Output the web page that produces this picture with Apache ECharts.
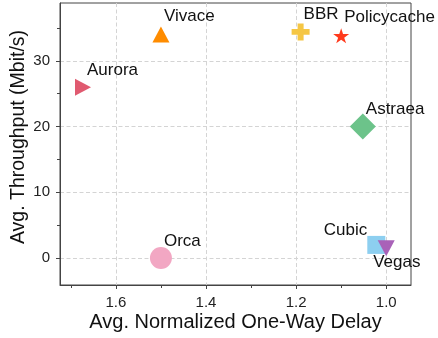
<!DOCTYPE html>
<html><head><meta charset="utf-8">
<script src="https://cdn.jsdelivr.net/npm/echarts@6/dist/echarts.min.js"></script>
<style>html,body{margin:0;padding:0;background:#fff}#c{width:438px;height:338px}</style>
</head><body><div id="c"></div>
<script>
// ---- data ----
const names = ['Vivace', 'BBR', 'Policycache', 'Aurora', 'Astraea', 'Orca', 'Cubic', 'Vegas'];
const delay = [1.50, 1.19, 1.10, 1.673, 1.052, 1.50, 1.022, 1.00];
const throughput = [34.0, 34.4, 33.8, 26.0, 20.0, 0.0, 2.0, 1.5];
const xMajorTicks = [1.0, 1.2, 1.4, 1.6];
const xMinorTicks = [1.1, 1.3, 1.5, 1.7];
const yMajorTicks = [0, 10, 20, 30];
const yMinorTicks = [5, 15, 25, 35];
const xLabel = 'Avg. Normalized One-Way Delay';
const yLabel = 'Avg. Throughput (Mbit/s)';

// ---- styles ----
function starPath() {
  const p = [];
  for (let k = 0; k < 10; k++) {
    const r = k % 2 ? 0.382 : 1;
    const a = (-90 + k * 36) * Math.PI / 180;
    p.push((r * Math.cos(a)).toFixed(4) + ' ' + (r * Math.sin(a)).toFixed(4));
  }
  return 'path://M' + p.join(' L') + ' Z';
}
const plusPath = 'path://M1 0 H2 V1 H3 V2 H2 V3 H1 V2 H0 V1 H1 Z';
const triRight = 'path://M0 0 L10 5 L0 10 Z';
const triDown = 'path://M0 0 L10 0 L5 10 Z';
const styles = {
  Vivace:      {symbol: 'triangle', size: [17, 16], color: '#FF8C00', off: [3, -18], align: 'left'},
  BBR:         {symbol: plusPath, size: [18, 17], color: '#F5C644', off: [3, -17.5], align: 'left'},
  Policycache: {symbol: starPath(), size: [16, 15], color: '#FF3A1C', off: [3, -18.5], align: 'left'},
  Aurora:      {symbol: triRight, size: [16, 17], color: '#E05A70', off: [4, -17], align: 'left'},
  Astraea:     {symbol: 'diamond', size: [26, 26], color: '#6CC38A', off: [3, -17], align: 'left'},
  Orca:        {symbol: 'circle', size: 22, color: '#F2A7C3', off: [3, -17], align: 'left'},
  Cubic:       {symbol: 'rect', size: [18, 18], color: '#8DCFF0', off: [-9, -15], align: 'right'},
  Vegas:       {symbol: triDown, size: [17, 16], color: '#A962B8', off: [-13, 14], align: 'left'}
};
const axisColor = '#444';
const font = 'Liberation Sans, Arial, sans-serif';
const gridLine = {show: true, lineStyle: {color: '#d4d4d4', type: [4, 2.5], width: 1}};

const series = names.map((n, i) => {
  const s = styles[n];
  return {
    type: 'scatter', name: n, xAxisIndex: 0, yAxisIndex: 0,
    data: [[delay[i], throughput[i]]],
    symbol: s.symbol, symbolSize: s.size,
    itemStyle: {color: s.color, opacity: 1},
    label: {
      show: true, formatter: n, position: 'inside', align: s.align, verticalAlign: 'middle',
      offset: s.off, fontSize: 17, color: '#111', fontFamily: font
    },
    z: 2 + i
  };
});

const chart = echarts.init(document.getElementById('c'), null, {renderer: 'canvas'});
chart.setOption({
  animation: false,
  grid: {left: 60, right: 27, top: 3, bottom: 53, show: true, borderColor: axisColor, borderWidth: 1},
  xAxis: [{
    type: 'value', inverse: true, min: 0.945, max: 1.724, position: 'bottom',
    name: xLabel, nameLocation: 'middle', nameGap: 27, nameMoveOverlap: false,
    nameTextStyle: {fontSize: 20, color: '#111', fontFamily: font},
    axisLine: {show: true, onZero: false, lineStyle: {color: axisColor, width: 1}},
    axisTick: {show: true, customValues: xMajorTicks, length: 4, lineStyle: {color: axisColor}},
    axisLabel: {customValues: xMajorTicks, formatter: v => Number(v).toFixed(1), fontSize: 15, color: '#222', margin: 10, fontFamily: font},
    splitLine: gridLine
  }, {
    type: 'value', inverse: true, min: 0.945, max: 1.724, position: 'bottom',
    axisLine: {show: false, onZero: false},
    axisTick: {show: true, customValues: xMinorTicks, length: 3, lineStyle: {color: axisColor}},
    axisLabel: {show: false},
    splitLine: {show: false}
  }],
  yAxis: [{
    type: 'value', min: -4.1, max: 38.8, position: 'left',
    name: yLabel, nameLocation: 'middle', nameGap: 31, nameMoveOverlap: false,
    nameTextStyle: {fontSize: 19.5, color: '#111', fontFamily: font, padding: [0, 0, 0, 14]},
    axisLine: {show: true, onZero: false, lineStyle: {color: axisColor, width: 1}},
    axisTick: {show: true, customValues: yMajorTicks, length: 4, lineStyle: {color: axisColor}},
    axisLabel: {customValues: yMajorTicks, fontSize: 15, color: '#222', margin: 10, fontFamily: font},
    splitLine: gridLine
  }, {
    type: 'value', min: -4.1, max: 38.8, position: 'left',
    axisLine: {show: false, onZero: false},
    axisTick: {show: true, customValues: yMinorTicks, length: 3, lineStyle: {color: axisColor}},
    axisLabel: {show: false},
    splitLine: {show: false}
  }],
  series: series
});
</script></body></html>
